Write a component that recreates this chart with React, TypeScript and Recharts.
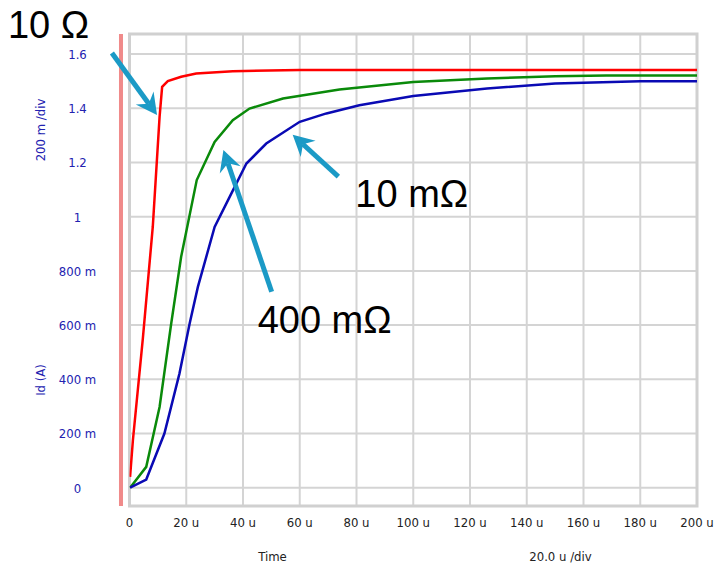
import React from "react"
import { LineChart, Line, XAxis, YAxis, CartesianGrid, ReferenceLine, ReferenceArea } from "recharts"

// time in microseconds, current in amps
const redTime = [0.2, 1.2, 4.7, 8.2, 10.6, 11.5, 13.5, 18.2, 23.5, 36.4, 60, 200]
const redCurrent = [0.04, 0.175, 0.55, 0.962, 1.368, 1.479, 1.5, 1.516, 1.528, 1.537, 1.541, 1.541]

const greenTime = [0.2, 5.9, 10.6, 14.7, 18.2, 23.7, 30, 36.4, 42.3, 54.1, 74, 100, 126, 150, 168, 200]
const greenCurrent = [0, 0.077, 0.298, 0.606, 0.852, 1.135, 1.276, 1.356, 1.399, 1.436, 1.469, 1.497, 1.51, 1.518, 1.521, 1.521]

const blueTime = [0.2, 5.9, 12.3, 17.6, 21.2, 24.1, 30, 35.3, 41.2, 48.2, 60, 69.4, 81, 100, 126, 150, 180, 200]
const blueCurrent = [0, 0.03, 0.2, 0.421, 0.606, 0.741, 0.962, 1.073, 1.196, 1.27, 1.35, 1.381, 1.411, 1.445, 1.473, 1.491, 1.5, 1.5]

const xTicks = [0, 20, 40, 60, 80, 100, 120, 140, 160, 180, 200]
const xTickLabels = ["0", "20 u", "40 u", "60 u", "80 u", "100 u", "120 u", "140 u", "160 u", "180 u", "200 u"]
const yTicks = [0, 0.2, 0.4, 0.6, 0.8, 1, 1.2, 1.4, 1.6]
const yTickLabels = ["0", "200 m", "400 m", "600 m", "800 m", "1", "1.2", "1.4", "1.6"]

// annotation arrows: tail -> tip, in data coordinates
const arrowLabels = ["10 Ω", "400 mΩ", "10 mΩ"]
const arrowTails = [{ x: -6.2, y: 1.604 }, { x: 50.1, y: 0.723 }, { x: 73.6, y: 1.148 }]
const arrowTips = [{ x: 9.7, y: 1.375 }, { x: 33.1, y: 1.246 }, { x: 57.5, y: 1.302 }]

const zip = (ts: number[], vs: number[]) => ts.map((t, i) => ({ t, i: vs[i] }))
const redData = zip(redTime, redCurrent)
const greenData = zip(greenTime, greenCurrent)
const blueData = zip(blueTime, blueCurrent)

const FONT = "'Liberation Sans Narrow', 'DejaVu Sans Condensed', Arial, sans-serif"
const BIG_FONT = "'Liberation Sans', Arial, sans-serif"
const ARROW = "#1b9ac6"
const labelOffsets = [{ dx: -104, dy: -15 }, { dx: -14, dy: 41 }, { dx: 17, dy: 30 }]

const makeArrow = (idx: number) => (props: any) => {
  const { x1, y1, x2, y2 } = props
  const len = Math.hypot(x2 - x1, y2 - y1)
  const ux = (x2 - x1) / len
  const uy = (y2 - y1) / len
  const nx = -uy
  const ny = ux
  const L = 21
  const W = 11
  const notch = 7
  const pts = [
    [x2, y2],
    [x2 - ux * L + nx * W, y2 - uy * L + ny * W],
    [x2 - ux * (L - notch), y2 - uy * (L - notch)],
    [x2 - ux * L - nx * W, y2 - uy * L - ny * W],
  ]
  const off = labelOffsets[idx]
  return (
    <g>
      <line x1={x1} y1={y1} x2={x2 - ux * (L - notch)} y2={y2 - uy * (L - notch)} stroke={ARROW} strokeWidth={5} />
      <polygon points={pts.map((p) => p.join(",")).join(" ")} fill={ARROW} />
      <text x={x1 + off.dx} y={y1 + off.dy} fontSize={38} fontFamily={BIG_FONT} fill="#000">
        {arrowLabels[idx]}
      </text>
    </g>
  )
}

const XTick = (props: any) => {
  const { x, y, payload } = props
  const idx = xTicks.indexOf(payload.value)
  return (
    <text x={x} y={y + 13} textAnchor="middle" fontSize={13} fontFamily={FONT} fill="#222">
      {xTickLabels[idx]}
    </text>
  )
}

const YTick = (props: any) => {
  const { x, y, payload } = props
  const idx = yTicks.indexOf(payload.value)
  return (
    <text x={x - 44} y={y + 5} textAnchor="middle" fontSize={13} fontFamily={FONT} fill="#2222b0">
      {yTickLabels[idx]}
    </text>
  )
}

const XLabel = (props: any) => {
  const { viewBox } = props
  const { x, y } = viewBox
  return (
    <g fontSize={13} fontFamily={FONT} fill="#222">
      <text x={x + 143} y={y + 55} textAnchor="middle">Time</text>
      <text x={x + 431} y={y + 55} textAnchor="middle">20.0 u /div</text>
    </g>
  )
}

const YLabel = (props: any) => {
  const { viewBox } = props
  const { x, y } = viewBox
  const cx = x + 40
  return (
    <g fontSize={13} fontFamily={FONT} fill="#2222b0">
      <text x={cx} y={y + 96} textAnchor="middle" transform={`rotate(-90 ${cx} ${y + 96})`} dy={5}>200 m /div</text>
      <text x={cx} y={y + 346} textAnchor="middle" transform={`rotate(-90 ${cx} ${y + 346})`} dy={5}>Id (A)</text>
    </g>
  )
}

export default function App() {
  return (
    <div style={{ position: "absolute", left: 0, top: 0, width: 715, height: 568, background: "#fff" }}>
      <LineChart width={715} height={568} margin={{ top: 34, right: 18, bottom: 32, left: 0 }}>
        <CartesianGrid stroke="#d4d4d4" strokeWidth={2} />
        <ReferenceArea x1={0} x2={200} y1={-0.0675} y2={1.674} fill="none" stroke="#d0d0d0" strokeWidth={3} />
        <XAxis
          type="number"
          dataKey="t"
          domain={[0, 200]}
          ticks={xTicks}
          allowDataOverflow
          axisLine={false}
          tickLine={false}
          height={30}
          tick={<XTick />}
          label={<XLabel />}
        />
        <YAxis
          type="number"
          domain={[-0.0675, 1.674]}
          ticks={yTicks}
          allowDataOverflow
          axisLine={false}
          tickLine={false}
          width={129.5}
          tick={<YTick />}
          label={<YLabel />}
        />
        <ReferenceLine x={-3} ifOverflow="visible" stroke="#f08a8a" strokeWidth={4} />
        <Line data={redData} dataKey="i" type="linear" stroke="#ff0000" strokeWidth={2.5} dot={false} isAnimationActive={false} />
        <Line data={greenData} dataKey="i" type="linear" stroke="#0a8a0a" strokeWidth={2.5} dot={false} isAnimationActive={false} />
        <Line data={blueData} dataKey="i" type="linear" stroke="#0a0ab4" strokeWidth={2.5} dot={false} isAnimationActive={false} />
        {arrowLabels.map((_, k) => (
          <ReferenceLine
            key={k}
            segment={[arrowTails[k], arrowTips[k]]}
            ifOverflow="visible"
            shape={makeArrow(k)}
          />
        ))}
      </LineChart>
    </div>
  )
}
